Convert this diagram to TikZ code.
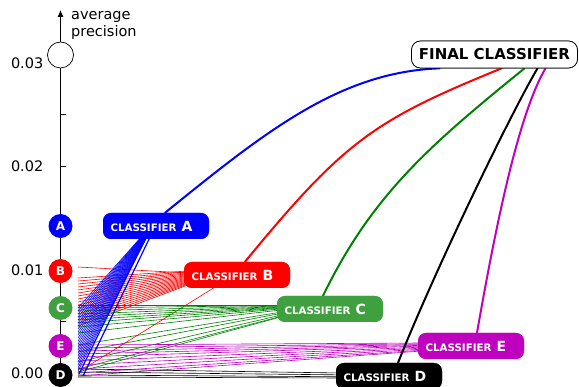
\documentclass[tikz,border=0pt]{standalone}
\usepackage{fontspec}
\setmainfont{DejaVu Sans}
\usetikzlibrary{arrows.meta,calc}
\definecolor{cblue}{RGB}{0,0,255}
\definecolor{cred}{RGB}{255,0,0}
\definecolor{cgreen}{RGB}{64,160,64}
\definecolor{dgreen}{RGB}{0,128,0}
\definecolor{cmag}{RGB}{191,0,191}
\newcommand\mkclf[1]{{\fontsize{10.3}{12}\selectfont CLASSIFIER}\hspace{5pt}{\fontsize{14}{14}\selectfont #1}}
\begin{document}
\begin{tikzpicture}[x=1pt,y=-1pt,
  clabel/.style={fill=#1, rounded corners=8pt, text=white, font=\bfseries, inner xsep=7.5pt, inner ysep=0pt, text width=91pt, align=left, minimum height=26pt},
  adot/.style={circle, fill=#1, text=white, minimum size=24pt, inner sep=0pt, font=\bfseries\fontsize{12}{12}\selectfont},
  fan/.style={line width=0.6pt},
  link/.style={line width=2pt, line cap=round},
  axtick/.style={line width=0.8pt},
  finalbox/.style={draw=black, line width=0.7pt, fill=white, rounded corners=9pt, minimum width=166pt, minimum height=27pt, inner sep=0pt, font=\bfseries\fontsize{15}{16}\selectfont},
  num/.style={anchor=east, inner sep=0pt, font=\fontsize{14.5}{15}\selectfont}]
\useasboundingbox (0,0) rectangle (579,387);
% axis
\draw[line width=1pt, -{Latex[length=7pt,width=6pt]}] (60.5,373) -- (60.5,10);
\foreach \y in {114.7,166.3,218,269.7,321.3} \draw[axtick] (60.5,\y) -- (65.5,\y);
\node[num] (l03) at (43.5,63) {0.03};
\node[num] (l02) at (43.5,166) {0.02};
\node[num] (l01) at (43.5,270) {0.01};
\node[num] (l00) at (43.5,373) {0.00};
\node[anchor=base west, align=left, inner sep=0pt, font=\fontsize{14.5}{17}\selectfont] (ylab) at (71,37) {average\\precision};
% classifier label nodes (positions)
\path (156,226) node[clabel=cblue] (cA) {\mkclf{A}}
      (237,275) node[clabel=cred] (cB) {\mkclf{B}}
      (330,309) node[clabel=cgreen] (cC) {\mkclf{C}}
      (389,376) node[clabel=black] (cD) {\mkclf{D}}
      (471,346) node[clabel=cmag] (cE) {\mkclf{E}};
\node[finalbox] (final) at (494.5,54.5) {FINAL CLASSIFIER};
% fans
\foreach \y in {278,281,...,326} \draw[fan,cred] (78,\y) -- ($(cB.west)+(4,{-4+(\y-278)*14/48})$);
\draw[fan,cred] (78,267) -- ($(cB.west)+(4,-2)$);
\draw[fan,cred] (80,371) -- ($(cB.south west)+(31,-1)$);
\foreach \y in {305,308,311,314,317,320,323,327,333,345,352,362,369,372} \draw[fan,dgreen] (78,\y) -- ($(cC.west)+(4,{-4+(\y-305)*12/67})$);
\foreach \y in {345,348,351,354,357,361,365,369,373,376} \draw[fan,cmag] (78,\y) -- ($(cE.west)+(4,{-3+(\y-345)*8/31})$);
\foreach \y in {369,372,375,377} \draw[fan,black] (78,\y) -- ($(cD.west)+(4,{-3+(\y-369)*5/8})$);
\foreach \y in {308,311,...,372} \draw[fan,cblue] (78,\y) -- ($(cA.south)+({-15+(\y-308)*6/64},-2)$);
\draw[cblue, line width=1.2pt] (79,374) -- ($(cA.south)+(-10,-2)$);
\draw[cblue, line width=1.2pt] (83,376) -- ($(cA.south)+(-6,-2)$);
% links to final
\coordinate (sA) at ([xshift=9pt]cA.north);
\coordinate (sB) at ([xshift=8pt]cB.north);
\coordinate (sC) at ([xshift=-7pt]cC.north);
\coordinate (sD) at ([xshift=9pt]cD.north);
\coordinate (sE) at ([xshift=6pt]cE.north);
\coordinate (eA) at ([xshift=-55pt]final.south);
\coordinate (eB) at ([xshift=7pt]final.south);
\coordinate (eC) at ([xshift=30pt]final.south);
\coordinate (eD) at ([xshift=43pt]final.south);
\coordinate (eE) at ([xshift=51pt]final.south);
\draw[link,cblue] (sA) .. controls (266,131) and (340,72) .. (eA);
\draw[link,cred] (sB) .. controls (345,140) and (375,120) .. (eB);
\draw[link,dgreen] (sC) .. controls (372,195) and (430,145) .. (eC);
\draw[link,black] (sD) .. controls (435,270) and (510,115) .. (eD);
\draw[link,cmag] (sE) .. controls (495,230) and (518,115) .. (eE);
% labels on top
\path (156,226) node[clabel=cblue] {\mkclf{A}}
      (237,275) node[clabel=cred] {\mkclf{B}}
      (330,309) node[clabel=cgreen] {\mkclf{C}}
      (389,376) node[clabel=black] {\mkclf{D}}
      (471,346) node[clabel=cmag] {\mkclf{E}};
\node[finalbox] at (494.5,54.5) {FINAL CLASSIFIER};
% axis dots
\node[circle, draw=black, fill=white, line width=0.7pt, minimum size=26pt, inner sep=0pt] (top) at (60.5,55) {};
\node[adot=cblue] (dA) at (60.5,226) {A};
\node[adot=cred] (dB) at (60.5,271) {B};
\node[adot=cgreen] (dC) at (60.5,308) {C};
\node[adot=cmag] (dE) at (60.5,346) {E};
\node[adot=black] (dD) at (60.5,375) {D};
\end{tikzpicture}
\end{document}
